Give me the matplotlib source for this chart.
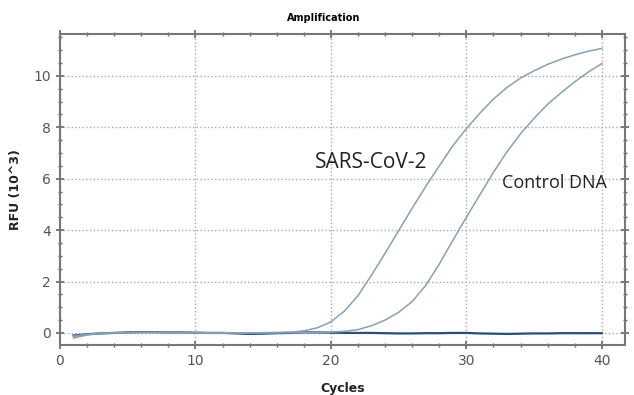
import numpy as np
import matplotlib.pyplot as plt
from matplotlib.ticker import MultipleLocator

cycles = np.arange(1, 41)
sars = [-0.20, -0.08, -0.02, 0.0, 0.01, 0.02, 0.02, 0.02, 0.01, 0.01,
        0.0, 0.0, 0.0, 0.0, 0.01, 0.02, 0.03, 0.08, 0.2, 0.43,
        0.85, 1.45, 2.25, 3.1, 3.98, 4.85, 5.7, 6.5, 7.28, 7.95,
        8.55, 9.1, 9.55, 9.92, 10.2, 10.45, 10.65, 10.82, 10.96, 11.07]
control = [-0.12, -0.05, -0.02, 0.0, 0.01, 0.02, 0.02, 0.01, 0.01, 0.0,
           0.0, 0.0, -0.01, -0.01, 0.0, 0.0, 0.01, 0.01, 0.02, 0.03,
           0.06, 0.13, 0.28, 0.5, 0.8, 1.22, 1.85, 2.68, 3.6, 4.5,
           5.38, 6.25, 7.05, 7.75, 8.35, 8.9, 9.35, 9.77, 10.15, 10.48]
negative = [-0.10, -0.05, -0.02, 0.0, 0.02, 0.03, 0.03, 0.02, 0.02, 0.01,
            0.0, 0.0, -0.02, -0.04, -0.03, -0.01, 0.0, 0.02, 0.02, 0.01,
            0.0, 0.0, 0.0, -0.01, -0.02, -0.02, -0.01, -0.01, 0.0, 0.0,
            -0.02, -0.03, -0.04, -0.03, -0.02, -0.02, -0.01, -0.01, -0.01, -0.01]

fig = plt.figure(figsize=(6.34, 3.95), dpi=100)
ax = fig.add_axes([0.0946, 0.1266, 0.891, 0.7873])

ax.plot(cycles, negative, color='#2a4f7e', lw=1.6)
ax.plot(cycles, sars, color='#86a0b8', lw=1.1)
ax.plot(cycles, control, color='#86a0b8', lw=1.1)

ax.set_xlim(0, 41.7)
ax.set_ylim(-0.47, 11.63)
ax.xaxis.set_major_locator(MultipleLocator(10))
ax.xaxis.set_minor_locator(MultipleLocator(2))
ax.yaxis.set_major_locator(MultipleLocator(2))
ax.yaxis.set_minor_locator(MultipleLocator(0.5))
ax.grid(which='major', color='#aaaaaa', linestyle=':', linewidth=1)

ax.tick_params(which='both', direction='inout', colors='#666666', top=True, right=True,
               labelsize=10, labelcolor='#555555')
ax.tick_params(which='major', length=6, width=1.2)
ax.tick_params(which='minor', length=3, width=1)
for s in ax.spines.values():
    s.set_color('#777777')
    s.set_linewidth(1.5)

ax.set_xlabel('Cycles', fontsize=9, fontweight='bold', color='#222222', labelpad=10)
ax.set_ylabel('RFU (10^3)', fontsize=9, fontweight='bold', color='#222222', labelpad=8)
fig.text(0.511, 0.955, 'Amplification', fontsize=7, fontweight='bold', ha='center', va='center')

ax.text(23.0, 6.65, 'SARS-CoV-2', fontsize=15, family='Open Sans', ha='center', va='center',
        color='#222222')
ax.text(36.5, 5.85, 'Control DNA', fontsize=13, family='Open Sans', ha='center', va='center',
        color='#222222')

fig.savefig('out.png', dpi=100)
